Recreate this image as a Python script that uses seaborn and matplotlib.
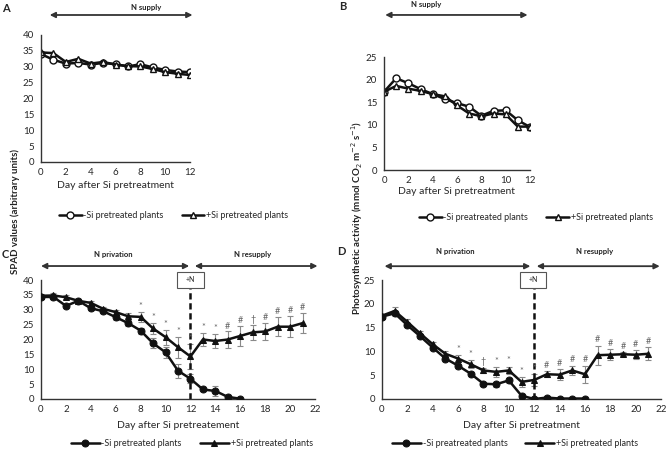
import numpy as np
import matplotlib
matplotlib.use("Agg")
import matplotlib.pyplot as plt
import seaborn as sns
from matplotlib.patches import Rectangle

sns.set_style("white")
plt.rcParams['font.family'] = ['Lato', 'DejaVu Sans']

# ---- data ----
days_a = list(range(13))
spad_a_minus = [34.0, 32.2, 31.0, 31.2, 30.7, 31.2, 30.8, 30.1, 30.8, 29.8, 29.0, 28.5, 28.3]
spad_a_plus = [34.5, 34.3, 31.5, 32.5, 31.0, 31.5, 30.7, 30.2, 30.1, 29.3, 28.3, 27.8, 27.4]

photo_b_minus = [17.3, 20.3, 19.2, 17.9, 16.8, 15.7, 14.8, 14.0, 12.0, 13.1, 13.2, 11.0, 9.5]
photo_b_plus = [17.3, 18.6, 18.0, 17.5, 16.8, 16.3, 14.3, 12.5, 11.9, 12.5, 12.3, 9.6, 9.6]

days_c_minus = list(range(17))
days_c_plus = list(range(22))
spad_c_minus = [34.3, 34.3, 31.3, 33.0, 30.5, 29.5, 27.5, 25.5, 23.0, 18.7, 15.7, 9.5, 6.8,
                3.2, 2.7, 0.7, 0.1]
spad_c_minus_err = [0.6, 0.6, 0.6, 0.6, 0.7, 0.7, 0.8, 0.9, 1.0, 1.7, 1.8, 2.3, 1.5,
                    0.5, 1.8, 0.5, 0.2]
spad_c_plus = [34.7, 34.8, 34.2, 33.0, 32.3, 30.3, 29.2, 27.8, 27.6, 23.7, 20.8, 17.4, 14.3,
               20.0, 19.5, 20.0, 21.2, 22.4, 22.7, 24.3, 24.3, 25.5]
spad_c_plus_err = [0.6, 0.7, 0.6, 0.6, 0.7, 0.7, 0.8, 1.2, 1.6, 1.8, 2.5, 3.5, 4.2,
                   2.3, 2.4, 2.7, 3.5, 2.6, 3.0, 3.2, 3.6, 3.3]
signif_c = ['', '', '', '', '', '', '', '', '*', '*', '*', '*', '*',
            '*', '*', '#', '#', '\u2020', '#', '#', '#', '#']

photo_d_minus = [17.3, 18.0, 15.5, 13.2, 10.8, 8.5, 7.0, 5.3, 3.2, 3.1, 3.9, 0.7, 0.0,
                 0.3, 0.1, 0.1, 0.1]
photo_d_minus_err = [0.4, 0.5, 0.4, 0.4, 0.4, 0.4, 0.4, 0.4, 0.4, 0.5, 0.5, 0.4, 0.2,
                     0.2, 0.1, 0.1, 0.1]
photo_d_plus = [17.5, 18.5, 16.2, 13.8, 11.5, 9.5, 8.5, 7.3, 6.0, 5.7, 6.0, 3.6, 4.0,
                5.2, 5.1, 6.0, 5.2, 9.2, 9.3, 9.4, 9.3, 9.5]
photo_d_plus_err = [0.4, 0.8, 0.6, 0.5, 0.5, 0.5, 0.7, 0.8, 0.6, 1.0, 0.8, 1.0, 1.2,
                    0.6, 1.2, 1.0, 1.8, 2.0, 1.2, 0.4, 0.9, 1.4]
signif_d = ['', '', '', '', '', '', '*', '*', '\u2020', '*', '*', '*', '*',
            '#', '#', '#', '#', '#', '#', '#', '#', '#']

LINE = '#111111'
GREY = '#8a8a8a'


def style_axis(ax, xmax, ymax, ystep):
    sns.despine(ax=ax)
    ax.spines['left'].set_color('#333333')
    ax.spines['bottom'].set_color('#333333')
    ax.spines['left'].set_linewidth(1.0)
    ax.spines['bottom'].set_linewidth(1.0)
    ax.set_xlim(0, xmax)
    ax.set_ylim(0, ymax)
    ax.set_xticks(np.arange(0, xmax + 1, 2))
    ax.set_yticks(np.arange(0, ymax + 1, ystep))
    ax.tick_params(axis='x', direction='inout', length=5, width=1.0, color='#333333',
                   labelsize=7, pad=2)
    ax.tick_params(axis='y', length=0, labelsize=7, pad=5)
    ax.set_xlabel('')
    ax.set_ylabel('')


def arrow(ax, x0, x1, y):
    ax.annotate('', xy=(x1, y), xytext=(x0, y), xycoords='data',
                arrowprops=dict(arrowstyle='<|-|>', color='#333333', lw=1.3,
                                mutation_scale=8, shrinkA=0, shrinkB=0),
                annotation_clip=False)


def plot_open(ax, x, y, marker, label):
    sns.lineplot(x=x, y=y, ax=ax, color=LINE, lw=1.8, marker=marker, markersize=5,
                 markerfacecolor='white', markeredgecolor=LINE, markeredgewidth=1.0,
                 label=label, legend=False)


def plot_filled(ax, x, y, err, marker, label):
    ax.errorbar(x, y, yerr=err, fmt='none', ecolor=GREY, elinewidth=0.8, capsize=2,
                capthick=0.8, zorder=1)
    sns.lineplot(x=x, y=y, ax=ax, color=LINE, lw=1.8, marker=marker, markersize=5,
                 markerfacecolor=LINE, markeredgecolor=LINE, label=label, legend=False,
                 zorder=3)


def signif(ax, x, y, err, marks, off):
    for xi, yi, ei, m in zip(x, y, err, marks):
        if m:
            ax.text(xi, yi + ei + off, m, ha='center', va='bottom', fontsize=6.5,
                    color='#666666')


fig = plt.figure(figsize=(6.66, 4.51), dpi=100)

# ---- panel A ----
axA = fig.add_axes([41 / 666, 1 - 162 / 451, 149 / 666, 127 / 451])
plot_open(axA, days_a, spad_a_minus, 'o', '-Si pretreated plants')
plot_open(axA, days_a, spad_a_plus, '^', '+Si pretreated plants')
style_axis(axA, 12, 40, 5)
arrow(axA, 0.7, 12.2, 46.3)
axA.text(8.5, 48.6, 'N supply', ha='center', va='center', fontsize=5.5,
         fontweight='bold', color='#222222')
axA.set_xlabel('Day after Si pretreatment', fontsize=7.5, labelpad=3)
axA.legend(loc='center', bbox_to_anchor=(0.89, -0.42), ncol=2, frameon=False,
           fontsize=6.5, handlelength=2.5, columnspacing=2.0, handletextpad=0.2)

# ---- panel B ----
axB = fig.add_axes([384 / 666, 1 - 170 / 451, 146 / 666, 113 / 451])
plot_open(axB, days_a, photo_b_minus, 'o', '-Si preatreated plants')
plot_open(axB, days_a, photo_b_plus, '^', '+Si pretreated plants')
style_axis(axB, 12, 25, 5)
arrow(axB, 0.1, 11.8, 34.3)
axB.text(3.5, 36.6, 'N supply', ha='center', va='center', fontsize=5.5,
         fontweight='bold', color='#222222')
axB.set_xlabel('Day after Si pretreatment', fontsize=7.5, labelpad=1)
axB.legend(loc='center', bbox_to_anchor=(1.04, -0.42), ncol=2, frameon=False,
           fontsize=6.5, handlelength=2.5, columnspacing=2.0, handletextpad=0.2)

# ---- panel C ----
axC = fig.add_axes([41 / 666, 1 - 399 / 451, 274 / 666, 119 / 451])
plot_filled(axC, days_c_minus, spad_c_minus, spad_c_minus_err, 'o', '-Si pretreated plants')
plot_filled(axC, days_c_plus, spad_c_plus, spad_c_plus_err, '^', '+Si pretreated plants')
signif(axC, days_c_plus, spad_c_plus, spad_c_plus_err, signif_c, 0.3)
style_axis(axC, 22, 40, 5)
axC.plot([12, 12], [0, 37.3], ls=(0, (2.5, 1.5)), color=LINE, lw=1.8, clip_on=False,
         zorder=2)
axC.add_patch(Rectangle((10.95, 37.3), 2.1, 5.4, fc='white', ec='#555555', lw=0.8,
                        clip_on=False, zorder=4))
axC.text(12, 40, '+N', ha='center', va='center', fontsize=5, zorder=5)
arrow(axC, 0.0, 11.9, 44.7)
arrow(axC, 12.35, 22.2, 44.7)
axC.text(5.8, 48.7, 'N privation', ha='center', va='center', fontsize=5.5,
         fontweight='bold', color='#222222')
axC.text(17.0, 48.7, 'N resupply', ha='center', va='center', fontsize=5.5,
         fontweight='bold', color='#222222')
axC.set_xlabel('Day after Si pretreatement', fontsize=7.5, labelpad=5)
axC.legend(loc='center', bbox_to_anchor=(0.55, -0.375), ncol=2, frameon=False,
           fontsize=6.5, handlelength=3.2, columnspacing=2.0, handletextpad=0.2)

# ---- panel D ----
axD = fig.add_axes([382 / 666, 1 - 399 / 451, 279 / 666, 119 / 451])
plot_filled(axD, days_c_minus, photo_d_minus, photo_d_minus_err, 'o', '-Si preatreated plants')
plot_filled(axD, days_c_plus, photo_d_plus, photo_d_plus_err, '^', '+Si pretreated plants')
signif(axD, days_c_plus, photo_d_plus, photo_d_plus_err, signif_d, 0.3)
style_axis(axD, 22, 25, 5)
axD.plot([12, 12], [0, 23.3], ls=(0, (2.5, 1.5)), color=LINE, lw=1.8, clip_on=False,
         zorder=2)
axD.add_patch(Rectangle((10.85, 23.3), 2.1, 3.4, fc='white', ec='#555555', lw=0.8,
                        clip_on=False, zorder=4))
axD.text(11.9, 25, '+N', ha='center', va='center', fontsize=5, zorder=5)
arrow(axD, 0.2, 11.7, 27.9)
arrow(axD, 12.2, 21.9, 27.9)
axD.text(5.8, 30.9, 'N privation', ha='center', va='center', fontsize=5.5,
         fontweight='bold', color='#222222')
axD.text(16.8, 30.9, 'N resupply', ha='center', va='center', fontsize=5.5,
         fontweight='bold', color='#222222')
axD.set_xlabel('Day after Si pretreatment', fontsize=7.5, labelpad=5)
axD.legend(loc='center', bbox_to_anchor=(0.477, -0.375), ncol=2, frameon=False,
           fontsize=6.5, handlelength=3.2, columnspacing=2.0, handletextpad=0.2)

# ---- shared y labels and panel letters ----
fig.text(15 / 666, 1 - 212 / 451, 'SPAD values (arbitrary units)', rotation=90,
         ha='center', va='center', fontsize=7, fontweight='bold', color='#222222')
fig.text(357 / 666, 1 - 218 / 451,
         'Photosynthetic activity (mmol CO$_2$ m$^{-2}$ s$^{-1}$)', rotation=90,
         ha='center', va='center', fontsize=7, fontweight='bold', color='#222222')
for lbl, x, y in [('A', 6, 8), ('B', 343, 7), ('C', 5, 254), ('D', 341, 252)]:
    fig.text(x / 666, 1 - y / 451, lbl, ha='center', va='center', fontsize=8,
             fontweight='bold')

fig.savefig('out.png', dpi=100)
